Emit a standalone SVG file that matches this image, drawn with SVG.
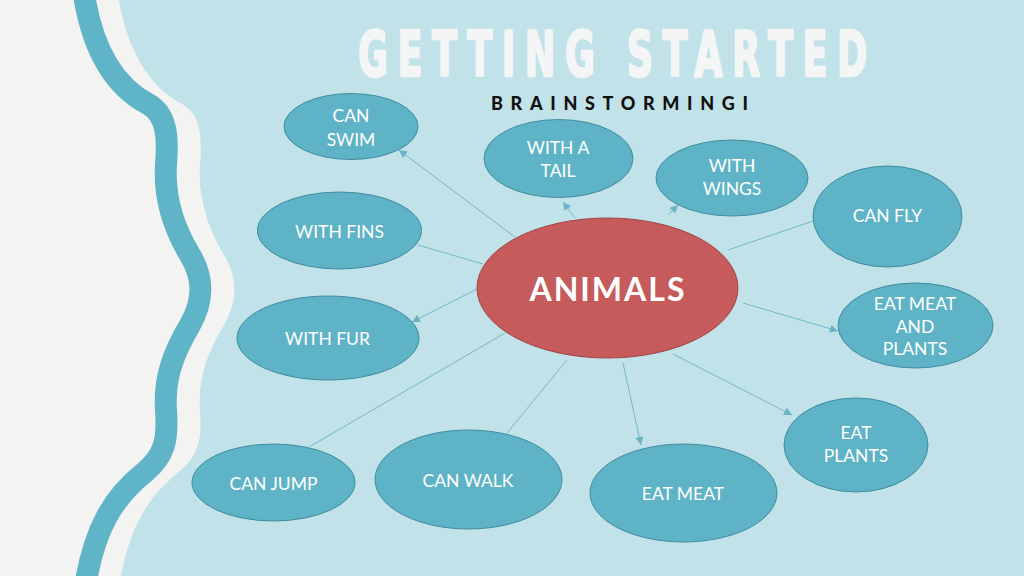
<svg xmlns="http://www.w3.org/2000/svg" width="1024" height="576" viewBox="0 0 1024 576">
  <defs>
    <style>
      .node ellipse { fill: #5fb3c6; stroke: #3f8c9e; stroke-width: 1; }
      .lbl { font-family: Lato, "Liberation Sans", sans-serif; font-size: 17.5px; fill: #ffffff; text-anchor: middle; }
      .conn line { stroke: #72b8c8; stroke-width: 1; fill: none; }
      .arr { marker-end: url(#ah); }
    </style>
    <marker id="ah" viewBox="0 0 10 10" refX="10" refY="5" markerWidth="9" markerHeight="8" markerUnits="userSpaceOnUse" orient="auto">
      <path d="M0,0 L10,5 L0,10 Z" fill="#6ab3c4"/>
    </marker>
  </defs>

  <!-- background -->
  <rect width="1024" height="576" fill="#c1e2e9"/>
  <path d="M0,-5 L118,-5 C126,45 146,85 182,104 C202,115 202,140 200,165 C198,195 206,225 224,255 C238,278 238,300 224,325 C206,355 198,380 200,410 C202,440 199,455 179,472 C146,498 129,530 120,581 L0,581 Z" fill="#f3f3f1"/>
  <path d="M84,-5 C92,45 112,85 148,104 C168,115 168,140 166,165 C164,195 172,225 190,255 C204,278 204,300 190,325 C172,355 164,380 166,410 C168,440 165,455 145,472 C112,498 95,530 86,581" fill="none" stroke="#5fb4c7" stroke-width="22"/>

  <!-- titles -->
  <text transform="translate(358,76) scale(0.58,1)" font-family="'DejaVu Sans', sans-serif" font-weight="bold" font-size="63" fill="#f4f6f6" stroke="#f4f6f6" stroke-width="2.5" stroke-linejoin="round" textLength="878" lengthAdjust="spacing">GETTING STARTED</text>
  <text x="491" y="110" font-family="Lato, 'Liberation Sans', sans-serif" font-weight="900" font-size="18" fill="#111111" textLength="257" lengthAdjust="spacing">BRAINSTORMINGI</text>

  <!-- connectors -->
  <g id="connectors" class="conn">
    <line class="arr" x1="515" y1="237" x2="399" y2="150"/>
    <line class="arr" x1="575" y1="218" x2="563" y2="202"/>
    <line class="arr" x1="668" y1="215" x2="678" y2="205"/>
    <line x1="418" y1="245" x2="483" y2="264"/>
    <line class="arr" x1="477" y1="289" x2="412" y2="322"/>
    <line x1="728" y1="250" x2="813" y2="221"/>
    <line class="arr" x1="743" y1="303" x2="838" y2="331"/>
    <line class="arr" x1="673" y1="354" x2="792" y2="415"/>
    <line class="arr" x1="623" y1="363" x2="641" y2="445"/>
    <line x1="567" y1="360" x2="507" y2="433"/>
    <line x1="505" y1="333" x2="309" y2="447"/>
  </g>

  <!-- nodes -->
  <g id="animals">
    <ellipse cx="607.5" cy="288" rx="130.5" ry="70" fill="#c65b5b" stroke="#a04545" stroke-width="1"/>
    <text x="608" y="301" font-family="Lato, 'Liberation Sans', sans-serif" font-weight="bold" font-size="32" fill="#ffffff" text-anchor="middle" letter-spacing="2">ANIMALS</text>
  </g>
  <g id="can-swim" class="node">
    <ellipse cx="351" cy="126.5" rx="67" ry="33"/>
    <text class="lbl" x="351" y="122">CAN</text>
    <text class="lbl" x="351" y="146">SWIM</text>
  </g>
  <g id="with-a-tail" class="node">
    <ellipse cx="558.5" cy="158.5" rx="74.5" ry="39"/>
    <text class="lbl" x="558" y="154">WITH A</text>
    <text class="lbl" x="558" y="177">TAIL</text>
  </g>
  <g id="with-wings" class="node">
    <ellipse cx="732" cy="178" rx="76" ry="38"/>
    <text class="lbl" x="732" y="172">WITH</text>
    <text class="lbl" x="732" y="195">WINGS</text>
  </g>
  <g id="can-fly" class="node">
    <ellipse cx="887.5" cy="216.5" rx="74.5" ry="50.5"/>
    <text class="lbl" x="887.5" y="222">CAN FLY</text>
  </g>
  <g id="with-fins" class="node">
    <ellipse cx="339.5" cy="230.5" rx="82" ry="38.5"/>
    <text class="lbl" x="339.5" y="238">WITH FINS</text>
  </g>
  <g id="with-fur" class="node">
    <ellipse cx="328" cy="338" rx="91" ry="42"/>
    <text class="lbl" x="327.5" y="345">WITH FUR</text>
  </g>
  <g id="eat-meat-and-plants" class="node">
    <ellipse cx="915.5" cy="325.5" rx="77.5" ry="42.5"/>
    <text class="lbl" x="915" y="310">EAT MEAT</text>
    <text class="lbl" x="915" y="333">AND</text>
    <text class="lbl" x="915" y="355">PLANTS</text>
  </g>
  <g id="eat-plants" class="node">
    <ellipse cx="856" cy="445" rx="72" ry="47"/>
    <text class="lbl" x="856" y="439">EAT</text>
    <text class="lbl" x="856" y="462">PLANTS</text>
  </g>
  <g id="can-jump" class="node">
    <ellipse cx="273.5" cy="482.5" rx="81.5" ry="38.5"/>
    <text class="lbl" x="273.5" y="490">CAN JUMP</text>
  </g>
  <g id="can-walk" class="node">
    <ellipse cx="468.5" cy="479.5" rx="93.5" ry="49.5"/>
    <text class="lbl" x="468" y="487">CAN WALK</text>
  </g>
  <g id="eat-meat" class="node">
    <ellipse cx="683.5" cy="493" rx="93.5" ry="49"/>
    <text class="lbl" x="683" y="500">EAT MEAT</text>
  </g>
</svg>
